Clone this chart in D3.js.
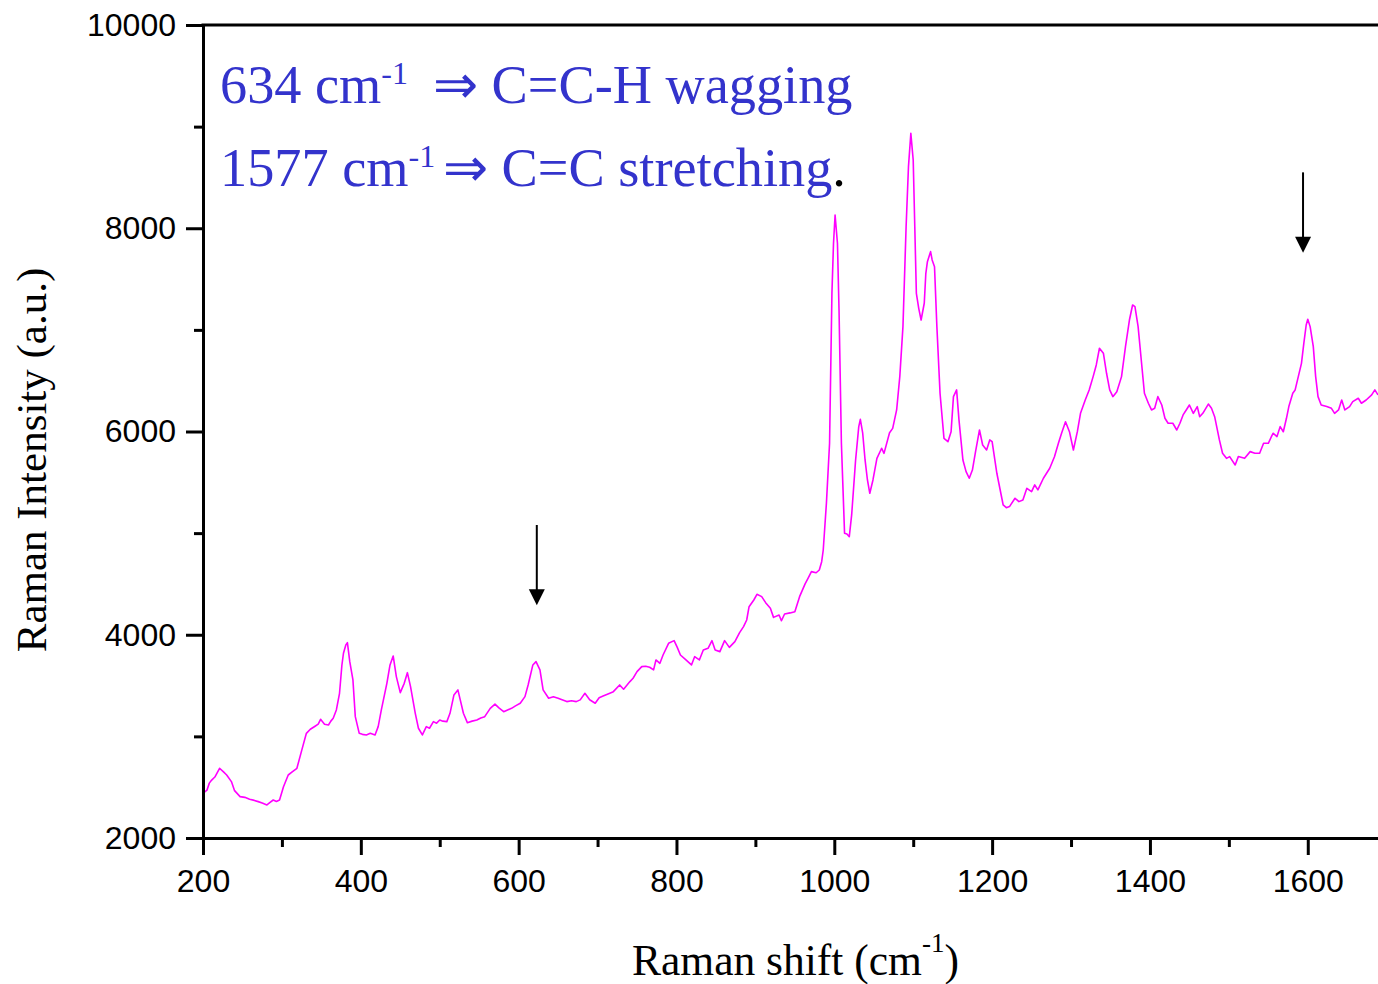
<!DOCTYPE html>
<html>
<head>
<meta charset="utf-8">
<script src="https://cdn.jsdelivr.net/npm/d3@7"></script>
<style>
  body { margin: 0; background: #fff; }
  svg { display: block; }
</style>
</head>
<body>
<svg id="chart" width="1378" height="984"></svg>
<script>
// Raman spectrum: shift (cm^-1) and intensity (a.u.)
const ramanShift = [
  200,205,208,211,215,221,226,230,236,240,247,253,259,265,270,275,281,285,289,293,
  297,302,308,313,319,325,331,336,342,346,349,354,359,362,365,369,373,376,378,381,
  383,386,390,393,398,402,407,412,418,422,426,433,437,441,445,450,455,459,463,469,
  473,478,483,487,492,496,500,504,509,513,518,523,526,530,535,541,547,552,557,564,
  570,575,581,586,591,596,602,608,612,618,622,627,631,638,644,650,655,661,667,673,
  678,684,690,697,702,707,714,720,728,733,741,745,750,756,761,766,771,774,779,783,
  790,797,801,805,812,819,823,829,834,840,845,849,855,861,867,874,880,885,889,892,
  898,902,908,913,919,923,930,933,937,944,950,956,963,967,971,977,981,984,986,990,
  994,997,999,1001,1004,1006,1009,1013,1016,1019,1022,1027,1031,1033,1036,1039,1042,1045,1049,1054,
  1060,1063,1070,1074,1079,1083,1087,1091,1094,1097,1100,1102,1104,1107,1110,1114,1116,1118,1122,1124,
  1127,1130,1134,1139,1144,1148,1151,1155,1158,1163,1167,1171,1175,1179,1184,1188,1193,1197,1200,1206,
  1214,1218,1222,1229,1234,1239,1244,1250,1254,1258,1265,1273,1279,1284,1288,1293,1298,1303,1308,1312,
  1318,1323,1328,1332,1336,1341,1345,1349,1353,1358,1364,1369,1374,1378,1381,1385,1389,1393,1398,1402,
  1406,1410,1415,1419,1423,1429,1434,1438,1442,1446,1450,1455,1460,1463,1467,1474,1478,1482,1488,1492,
  1497,1501,1508,1512,1520,1527,1533,1539,1544,1550,1556,1561,1565,1569,1573,1576,1581,1584,1588,1592,
  1595,1598,1600,1603,1607,1610,1613,1617,1624,1630,1634,1639,1643,1647,1653,1657,1664,1668,1674,1681,
  1685,1689
];
const intensity = [
  2440,2470,2540,2570,2600,2686,2650,2620,2555,2466,2407,2400,2381,2370,2358,2345,2325,2350,2374,2360,
  2374,2505,2620,2650,2686,2860,3030,3070,3100,3120,3168,3120,3112,3150,3178,3260,3424,3700,3818,3900,
  3922,3735,3555,3194,3030,3020,3014,3030,3014,3096,3260,3522,3703,3791,3588,3430,3522,3627,3489,3227,
  3080,3014,3096,3080,3145,3130,3161,3150,3145,3227,3408,3457,3359,3227,3135,3150,3161,3180,3194,3276,
  3318,3280,3243,3260,3276,3300,3326,3391,3506,3703,3735,3654,3457,3375,3390,3375,3360,3342,3350,3342,
  3359,3424,3360,3326,3380,3397,3420,3440,3506,3464,3539,3572,3637,3686,3690,3680,3654,3752,3719,3801,
  3916,3942,3876,3801,3752,3703,3784,3752,3850,3867,3942,3850,3834,3942,3876,3932,4021,4080,4145,4276,
  4342,4398,4375,4316,4260,4171,4194,4138,4204,4215,4227,4375,4500,4560,4621,4610,4637,4719,4834,5293,
  5884,7360,7852,8130,7852,7196,5884,4999,4992,4965,5179,5720,6048,6120,5983,5720,5523,5392,5523,5736,
  5835,5785,5988,6031,6212,6540,7032,8015,8606,8934,8672,8015,7360,7212,7097,7262,7557,7671,7770,7688,
  7622,7032,6376,5933,5900,5998,6343,6409,6114,5720,5605,5540,5621,5802,6015,5867,5818,5917,5900,5589,
  5277,5250,5261,5343,5310,5326,5441,5408,5474,5425,5540,5638,5752,5884,5983,6096,5998,5818,5998,6179,
  6310,6409,6540,6655,6819,6770,6573,6409,6343,6392,6540,6835,7097,7245,7228,7032,6704,6376,6278,6212,
  6228,6343,6261,6130,6081,6081,6015,6081,6163,6212,6261,6179,6245,6146,6179,6270,6228,6146,5917,5786,
  5736,5753,5671,5753,5736,5802,5786,5786,5884,5884,5983,5950,6048,5998,6130,6245,6376,6409,6540,6671,
  6868,7048,7104,7032,6835,6540,6343,6261,6245,6228,6179,6212,6310,6212,6245,6294,6327,6278,6310,6360,
  6409,6360
];

// Axis ticks
const xTicks = [200, 400, 600, 800, 1000, 1200, 1400, 1600];
const xMinorTicks = [300, 500, 700, 900, 1100, 1300, 1500];
const yTicks = [2000, 4000, 6000, 8000, 10000];
const yMinorTicks = [3000, 5000, 7000, 9000];

// Marker arrows (shift, start intensity, tip intensity)
const arrowShift = [623, 1594];
const arrowFrom = [5080, 8550];
const arrowTo = [4290, 7760];

const svg = d3.select("#chart");
svg.append("rect").attr("width", 1378).attr("height", 984).attr("fill", "#fff");

const x = d3.scaleLinear().domain([200, 1689]).range([203, 1378]);
const y = d3.scaleLinear().domain([2000, 10000]).range([838, 25]);

const tickFont = "'Liberation Sans', Arial, sans-serif";
const serif = "'Liberation Serif', 'Times New Roman', serif";

// spectrum line
const line = d3.line().x((d, i) => x(ramanShift[i])).y(d => y(d));
svg.append("path")
  .datum(intensity)
  .attr("d", line)
  .attr("fill", "none")
  .attr("stroke", "#ff00ff")
  .attr("stroke-width", 1.6)
  .attr("stroke-linejoin", "round");

function styleAxis(g) {
  g.select(".domain").attr("stroke", "#000").attr("stroke-width", 3);
  g.selectAll(".tick line").attr("stroke", "#000").attr("stroke-width", 3);
  g.selectAll(".tick text")
    .attr("font-family", tickFont)
    .attr("font-size", 32)
    .attr("fill", "#000");
}

// bottom axis
const gx = svg.append("g").attr("transform", `translate(0,${y(2000)})`)
  .call(d3.axisBottom(x).tickValues(xTicks).tickSize(17).tickSizeOuter(0)
    .tickPadding(14).tickFormat(d3.format("d")));
styleAxis(gx);
const gxm = svg.append("g").attr("transform", `translate(0,${y(2000)})`)
  .call(d3.axisBottom(x).tickValues(xMinorTicks).tickSize(9).tickFormat(""));
gxm.select(".domain").remove();
styleAxis(gxm);

// left axis
const gy = svg.append("g").attr("transform", `translate(${x(200)},0)`)
  .call(d3.axisLeft(y).tickValues(yTicks).tickSize(17).tickSizeOuter(0)
    .tickPadding(10).tickFormat(d3.format("d")));
styleAxis(gy);
const gym = svg.append("g").attr("transform", `translate(${x(200)},0)`)
  .call(d3.axisLeft(y).tickValues(yMinorTicks).tickSize(9).tickFormat(""));
gym.select(".domain").remove();
styleAxis(gym);

// top frame line
svg.append("line")
  .attr("x1", x(200) - 1.5).attr("x2", x(1689))
  .attr("y1", y(10000)).attr("y2", y(10000))
  .attr("stroke", "#000").attr("stroke-width", 3);

// arrows
arrowShift.forEach((s, i) => {
  const ax = x(s), y0 = y(arrowFrom[i]), y1 = y(arrowTo[i]);
  svg.append("line")
    .attr("x1", ax).attr("x2", ax).attr("y1", y0).attr("y2", y1 - 14)
    .attr("stroke", "#000").attr("stroke-width", 2);
  svg.append("path")
    .attr("d", `M${ax - 8},${y1 - 16} L${ax + 8},${y1 - 16} L${ax},${y1} Z`)
    .attr("fill", "#000");
});

// axis titles
const xt = svg.append("text")
  .attr("x", 632).attr("y", 975)
  .attr("font-family", serif).attr("font-size", 43.5).attr("fill", "#000");
xt.append("tspan").text("Raman shift (cm");
xt.append("tspan").attr("font-size", 27).attr("dy", -23).text("-1");
xt.append("tspan").attr("dy", 23).text(")");

svg.append("text")
  .attr("transform", "translate(46,460) rotate(-90)")
  .attr("text-anchor", "middle")
  .attr("font-family", serif).attr("font-size", 43).attr("fill", "#000")
  .text("Raman Intensity (a.u.)");

// band assignments
const blue = "#3333cc";
const t1 = svg.append("text")
  .attr("x", 220).attr("y", 103)
  .attr("font-family", serif).attr("font-size", 54.3).attr("fill", blue);
t1.append("tspan").text("634 cm");
t1.append("tspan").attr("font-size", 32).attr("dy", -19).text("-1");
t1.append("tspan").attr("x", 433).attr("dy", 19).text("\u21D2 C=C-H wagging");

const t2 = svg.append("text")
  .attr("x", 220).attr("y", 186)
  .attr("font-family", serif).attr("font-size", 54.3).attr("fill", blue);
t2.append("tspan").text("1577 cm");
t2.append("tspan").attr("font-size", 32).attr("dy", -19).text("-1");
t2.append("tspan").attr("x", 443).attr("dy", 19).text("\u21D2 C=C stretching");
t2.append("tspan").attr("fill", "#000").text(".");
</script>
</body>
</html>
